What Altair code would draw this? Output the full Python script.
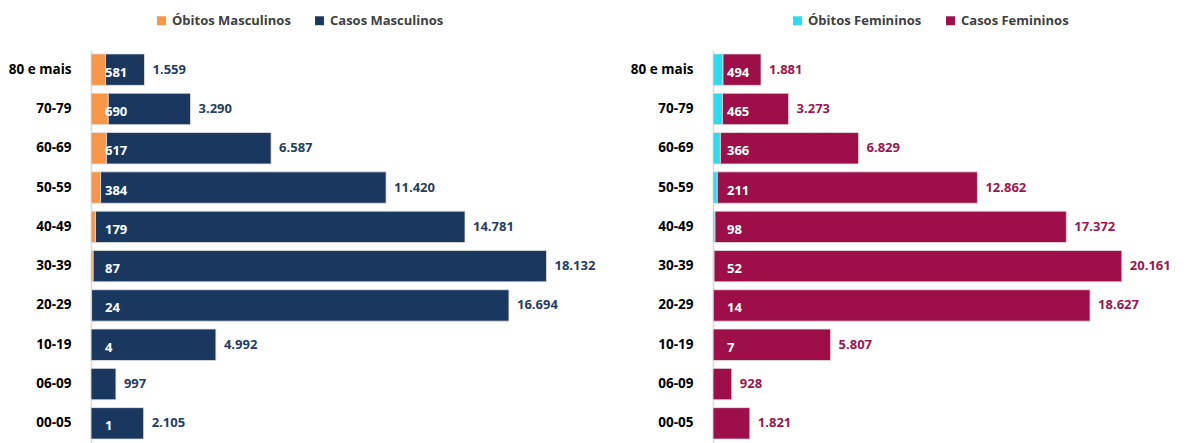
import altair as alt
import pandas as pd

ages = ["80 e mais", "70-79", "60-69", "50-59", "40-49", "30-39", "20-29", "10-19", "06-09", "00-05"]
obitos_m = [581, 690, 617, 384, 179, 87, 24, 4, 0, 1]
casos_m = [1559, 3290, 6587, 11420, 14781, 18132, 16694, 4992, 997, 2105]
obitos_f = [494, 465, 366, 211, 98, 52, 14, 7, 0, 0]
casos_f = [1881, 3273, 6829, 12862, 17372, 20161, 18627, 5807, 928, 1821]

FONT = "Open Sans"


def fmt(v):
    return f"{v:,}".replace(",", ".")


def panel(obitos, casos, lab_ob, lab_ca, c_ob, c_ca, txt_col, xmax, width, legx):
    long_rows = []
    for a, o, c in zip(ages, obitos, casos):
        long_rows.append({"age": a, "serie": lab_ob, "value": o, "ord": 0})
        long_rows.append({"age": a, "serie": lab_ca, "value": c, "ord": 1})
    long_df = pd.DataFrame(long_rows)
    wide = pd.DataFrame({
        "age": ages,
        "obitos": obitos,
        "casos": casos,
        "ob_lab": [str(o) if o > 0 else "" for o in obitos],
        "ca_lab": [fmt(c) for c in casos],
    })

    yenc = alt.Y("age:N", sort=ages, title=None,
                 scale=alt.Scale(paddingInner=0.2, paddingOuter=0.1),
                 axis=alt.Axis(labelFont=FONT, labelFontSize=13.5, labelFontWeight="bold",
                               labelColor="#000000", ticks=False, labelPadding=20,
                               domainColor="#d9d9d9", domainWidth=1.5,
                               minExtent=81, maxExtent=81))

    bars = alt.Chart(long_df).mark_bar(stroke="#e4e4e4", strokeWidth=0.8).encode(
        y=yenc,
        x=alt.X("value:Q", stack="zero", title=None,
                scale=alt.Scale(domain=[0, xmax], nice=False),
                axis=None),
        color=alt.Color("serie:N",
                        scale=alt.Scale(domain=[lab_ob, lab_ca], range=[c_ob, c_ca]),
                        legend=alt.Legend(title=None, orient="none", direction="horizontal",
                                          legendX=legx, legendY=-36,
                                          symbolType="square", symbolSize=80,
                                          symbolStrokeWidth=0,
                                          labelFont=FONT, labelFontSize=13,
                                          labelFontWeight="bold", labelColor="#404040",
                                          labelOffset=4, columnPadding=22)),
        order=alt.Order("ord:Q", sort="ascending"),
    )

    ob_text = alt.Chart(wide).mark_text(
        align="left", baseline="middle", dx=14, dy=3, color="white",
        font=FONT, fontSize=13, fontWeight="bold"
    ).encode(
        y=alt.Y("age:N", sort=ages),
        x=alt.datum(0),
        text="ob_lab:N",
    )

    ca_text = alt.Chart(wide).transform_calculate(
        total="datum.obitos + datum.casos"
    ).mark_text(
        align="left", baseline="middle", dx=8, dy=0, color=txt_col,
        font=FONT, fontSize=13, fontWeight="bold"
    ).encode(
        y=alt.Y("age:N", sort=ages),
        x=alt.X("total:Q"),
        text="ca_lab:N",
    )

    return alt.layer(bars, ob_text, ca_text).properties(width=width, height=393)


left = panel(obitos_m, casos_m, "Óbitos Masculinos", "Casos Masculinos",
             "#F79646", "#19375F", "#1F3E66", 20000, 500, 64)
right = panel(obitos_f, casos_f, "Óbitos Femininos", "Casos Femininos",
              "#2ADCEE", "#9E0F4A", "#9E1550", 22000, 445, 78)

chart = alt.hconcat(left, right, spacing=34).resolve_scale(
    color="independent", x="independent"
).configure(
    padding={"top": 6, "left": 0, "right": 0, "bottom": 0}, background="white"
).configure_view(stroke=None)

chart.save("out.html", embed_options={"renderer": "svg", "actions": False})
